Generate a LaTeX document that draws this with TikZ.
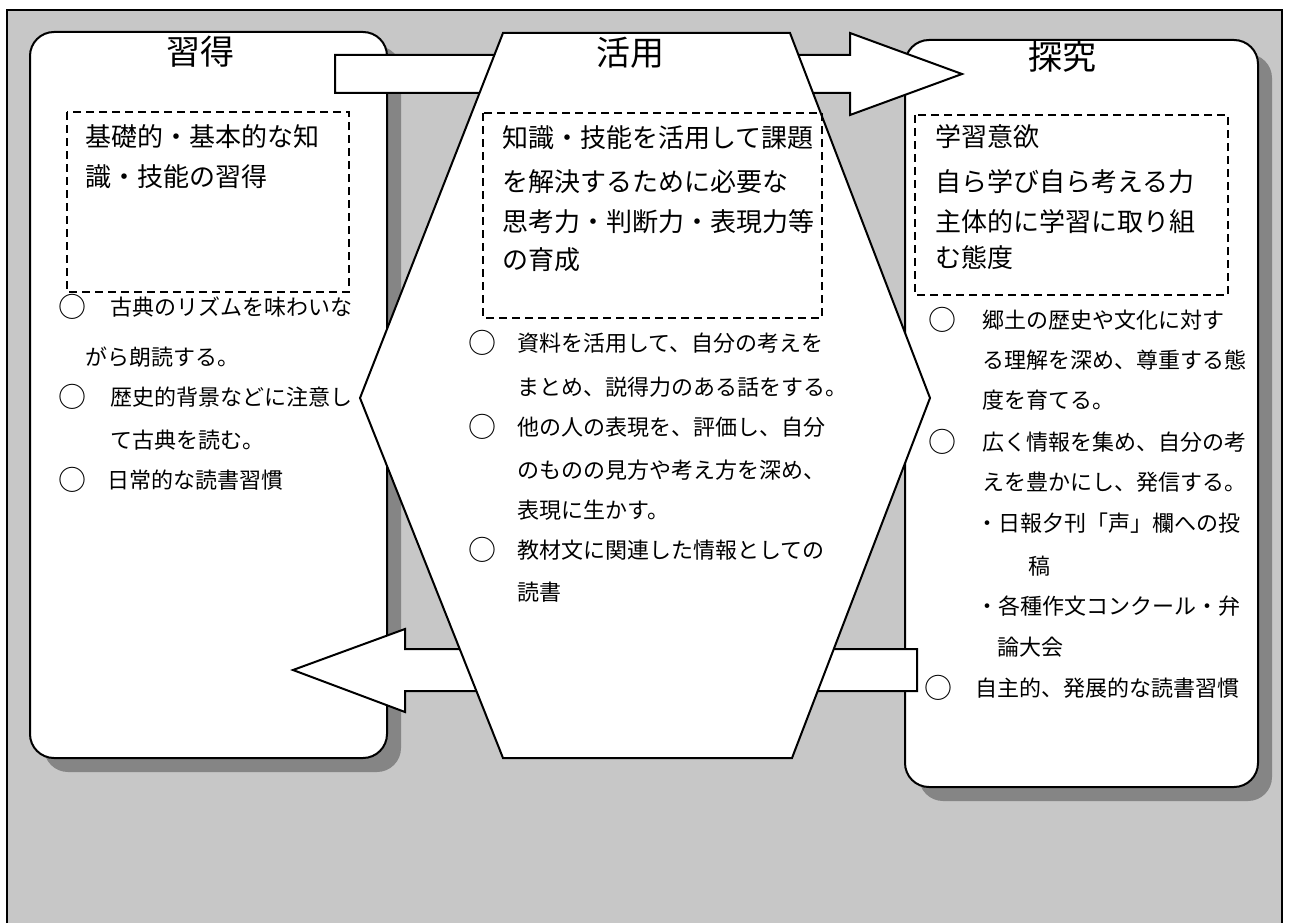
\documentclass[tikz,border=0pt]{standalone}
\usepackage{fontspec}
\setmainfont{Noto Sans CJK JP}
\begin{document}
\begin{tikzpicture}[x=1pt,y=-1pt,
  panel/.style={draw=black, line width=2pt, fill=white, rounded corners=24pt},
  panelshadow/.style={fill=black!48, rounded corners=24pt},
  dbox/.style={draw=black, line width=1.5pt, dash pattern=on 8pt off 5pt},
  ttl/.style={font=\fontsize{34}{34}\selectfont, inner sep=0pt},
  big/.style={font=\fontsize{26}{26}\selectfont, anchor=west, inner sep=0pt},
  txt/.style={font=\fontsize{22}{22}\selectfont, anchor=west, inner sep=0pt},
  circ/.style={font=\fontsize{28}{28}\selectfont, inner sep=0pt},
  blockarrow/.style={draw=black, line width=2pt, fill=white, line join=miter}]
\useasboundingbox (0,0) rectangle (1289,923);
% page background
\fill[white] (0,0) rectangle (1289,923);
\fill[black!22] (7,10) rectangle (1282,923);
\draw[line width=2pt] (7,923) -- (7,10) -- (1282,10) -- (1282,923);

% left panel
\fill[panelshadow] (44,46) rectangle (401,772);
\draw[panel] (30,32) rectangle (387,758);
% right panel
\fill[panelshadow] (919,54) rectangle (1272,801);
\draw[panel] (905,40) rectangle (1258,787);

% block arrows
\coordinate (a1t) at (962,74);
\draw[blockarrow] (335,55) -- (850,55) -- (850,33) -- (a1t) -- (850,115) -- (850,93) -- (335,93) -- cycle;
\coordinate (a2t) at (293,670);
\draw[blockarrow] (917,649) -- (405,649) -- (405,629) -- (a2t) -- (405,712) -- (405,691) -- (917,691) -- cycle;

% central hexagon
\coordinate (h1) at (503,33);
\coordinate (h2) at (790,33);
\coordinate (h3) at (930,398);
\coordinate (h4) at (792,758);
\coordinate (h5) at (503,758);
\coordinate (h6) at (360,398);
\fill[black!48, shift={(14,14)}] (h1) -- (h2) -- (h3) -- (h4) -- (h5) -- (h6) -- cycle;
\draw[line width=2pt, fill=white, line join=miter] (h1) -- (h2) -- (h3) -- (h4) -- (h5) -- (h6) -- cycle;

% ---------- left panel text ----------
\node[ttl] (tl) at (200,52) {習得};
\draw[dbox] (67,112) rectangle (349,292);
\node[big] (l1) at (85,137) {基礎的・基本的な知};
\node[big] (l2) at (85,177) {識・技能の習得};
\node[circ] (lc1) at (72,307) {○};
\node[txt] (lb1) at (110,307) {古典のリズムを味わいな};
\node[txt] (lb1b) at (85,357) {がら朗読する。};
\node[circ] (lc2) at (72,397) {○};
\node[txt] (lb2) at (110,397) {歴史的背景などに注意し};
\node[txt] (lb2b) at (110,440) {て古典を読む。};
\node[circ] (lc3) at (72,480) {○};
\node[txt] (lb3) at (107,480) {日常的な読書習慣};

% ---------- middle text ----------
\node[ttl] (tm) at (630,53) {活用};
\draw[dbox] (483,113) rectangle (822,318);
\node[big] (m1) at (502,138) {知識・技能を活用して課題};
\node[big] (m2) at (502,182) {を解決するために必要な};
\node[big] (m3) at (502,222) {思考力・判断力・表現力等};
\node[big] (m4) at (502,260) {の育成};
\node[circ] (mc1) at (482,343) {○};
\node[txt] (mb1) at (517,343) {資料を活用して、自分の考えを};
\node[txt] (mb1b) at (517,387) {まとめ、説得力のある話をする。};
\node[circ] (mc2) at (482,427) {○};
\node[txt] (mb2) at (517,427) {他の人の表現を、評価し、自分};
\node[txt] (mb2b) at (517,470) {のものの見方や考え方を深め、};
\node[txt] (mb2c) at (517,510) {表現に生かす。};
\node[circ] (mc3) at (482,550) {○};
\node[txt] (mb3) at (517,550) {教材文に関連した情報としての};
\node[txt] (mb3b) at (517,592) {読書};

% ---------- right panel text ----------
\node[ttl] (tr) at (1062,57) {探究};
\draw[dbox] (915,115) rectangle (1228,295);
\node[big] (r1) at (935,137) {学習意欲};
\node[big] (r2) at (935,182) {自ら学び自ら考える力};
\node[big] (r3) at (935,222) {主体的に学習に取り組};
\node[big] (r4) at (935,258) {む態度};
\node[circ] (rc1) at (942,320) {○};
\node[txt] (rb1) at (982,320) {郷土の歴史や文化に対す};
\node[txt] (rb1b) at (982,360) {る理解を深め、尊重する態};
\node[txt] (rb1c) at (982,400) {度を育てる。};
\node[circ] (rc2) at (942,442) {○};
\node[txt] (rb2) at (982,442) {広く情報を集め、自分の考};
\node[txt] (rb2b) at (982,482) {えを豊かにし、発信する。};
\node[txt] (rb3) at (976,523) {・日報夕刊「声」欄への投};
\node[txt] (rb3b) at (1028,566) {稿};
\node[txt] (rb4) at (976,606) {・各種作文コンクール・弁};
\node[txt] (rb4b) at (997,647) {論大会};
\node[circ] (rc3) at (938,688) {○};
\node[txt] (rb5) at (975,688) {自主的、発展的な読書習慣};
\end{tikzpicture}
\end{document}
